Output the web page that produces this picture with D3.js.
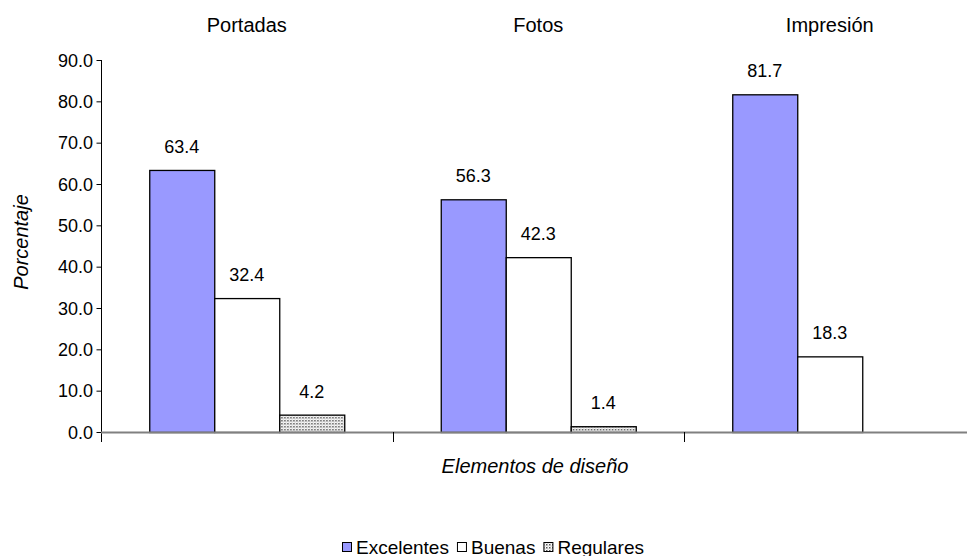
<!DOCTYPE html>
<html>
<head>
<meta charset="utf-8">
<script src="https://cdn.jsdelivr.net/npm/d3@7"></script>
<style>
  html, body { margin: 0; padding: 0; background: #fff; }
  svg { display: block; }
  text { font-family: "Liberation Sans", Arial, sans-serif; fill: #000; }
</style>
</head>
<body>
<svg id="chart" width="967" height="556"></svg>
<script>
// Evaluation of design elements (percentages)
const categories = ["Portadas", "Fotos", "Impresión"];
const seriesNames = ["Excelentes", "Buenas", "Regulares"];
const excelentes = [63.4, 56.3, 81.7];
const buenas = [32.4, 42.3, 18.3];
const regulares = [4.2, 1.4, null];
const yTicks = [0, 10, 20, 30, 40, 50, 60, 70, 80, 90];

const seriesValues = [excelentes, buenas, regulares];

const svg = d3.select("#chart");
const plotLeft = 101, plotBottom = 432, plotTop = 60;
const bandW = 291.5;

// Dotted fill for the "Regulares" series
const defs = svg.append("defs");
const pat = defs.append("pattern")
  .attr("id", "dots").attr("patternUnits", "userSpaceOnUse")
  .attr("width", 3).attr("height", 3);
pat.append("rect").attr("width", 3).attr("height", 3).attr("fill", "#fff");
pat.append("rect").attr("x", 0).attr("y", 0).attr("width", 1.5).attr("height", 1.5).attr("fill", "#555");
pat.append("rect").attr("x", 1.5).attr("y", 1.5).attr("width", 1).attr("height", 1).attr("fill", "#999");

const fills = ["#9999FF", "#FFFFFF", "url(#dots)"];

const x0 = d3.scaleBand().domain(categories).range([plotLeft, plotLeft + bandW * categories.length]).padding(0);
const groupW = 195;
const x1 = d3.scaleBand().domain(seriesNames).range([0, groupW]).padding(0);
const y = d3.scaleLinear().domain([0, 90]).range([plotBottom, plotTop]);

// Y axis
const yAxis = d3.axisLeft(y).tickValues(yTicks).tickFormat(d3.format(".1f")).tickSize(5).tickPadding(3);
const gy = svg.append("g").attr("transform", `translate(${plotLeft},0)`).call(yAxis);
gy.select(".domain").attr("stroke", "#000").attr("stroke-width", 1).attr("d", `M0.5,${plotTop}V${plotBottom + 10}`);
gy.selectAll(".tick line").attr("stroke", "#000").attr("transform", "translate(0.5,0)");
gy.selectAll(".tick text").attr("font-size", 18).attr("dy", "0.34em")
  .attr("font-family", "Liberation Sans, Arial, sans-serif").attr("fill", "#000");

// Bars
const groups = svg.append("g").selectAll("g").data(categories).join("g")
  .attr("transform", c => `translate(${x0(c) + (x0.bandwidth() - groupW) / 2},0)`);

groups.each(function (c, ci) {
  const g = d3.select(this);
  seriesNames.forEach((s, si) => {
    const v = seriesValues[si][ci];
    if (v == null) return;
    g.append("rect")
      .attr("x", x1(s) + 0.5)
      .attr("y", y(v) + 0.5)
      .attr("width", x1.bandwidth())
      .attr("height", y(0) - y(v))
      .attr("fill", fills[si])
      .attr("stroke", "#000").attr("stroke-width", 1.3);
    g.append("text")
      .attr("x", x1(s) + x1.bandwidth() / 2)
      .attr("y", y(v) - 17)
      .attr("text-anchor", "middle").attr("font-size", 18)
      .text(d3.format(".1f")(v));
  });
  // Category label on top
  g.append("text")
    .attr("x", groupW / 2).attr("y", 32)
    .attr("text-anchor", "middle").attr("font-size", 20)
    .text(c);
});

// X axis baseline and category separators
svg.append("line").attr("x1", plotLeft).attr("x2", 967).attr("y1", plotBottom + 0.5).attr("y2", plotBottom + 0.5)
  .attr("stroke", "#808080").attr("stroke-width", 2);
const sep = [x0(categories[1]), x0(categories[2])];
svg.selectAll(".sep").data(sep).join("line")
  .attr("x1", d => Math.round(d) + 0.5).attr("x2", d => Math.round(d) + 0.5)
  .attr("y1", plotBottom).attr("y2", plotBottom + 10)
  .attr("stroke", "#000").attr("stroke-width", 1);

// Axis titles
svg.append("text").attr("x", 535).attr("y", 473).attr("text-anchor", "middle")
  .attr("font-size", 20).attr("font-style", "italic").text("Elementos de diseño");
svg.append("text").attr("transform", "translate(28,242) rotate(-90)").attr("text-anchor", "middle")
  .attr("font-size", 20).attr("font-style", "italic").text("Porcentaje");

// Legend
const legend = svg.append("g").attr("transform", "translate(342,547)");
let lx = 0;
seriesNames.forEach((s, i) => {
  legend.append("rect").attr("x", lx + 0.5).attr("y", -4.5).attr("width", 9).attr("height", 9)
    .attr("fill", fills[i]).attr("stroke", "#000").attr("stroke-width", 1);
  const t = legend.append("text").attr("x", lx + 14).attr("y", 6.5).attr("font-size", 19).text(s);
  lx += 14 + t.node().getComputedTextLength() + 8;
});
</script>
</body>
</html>
